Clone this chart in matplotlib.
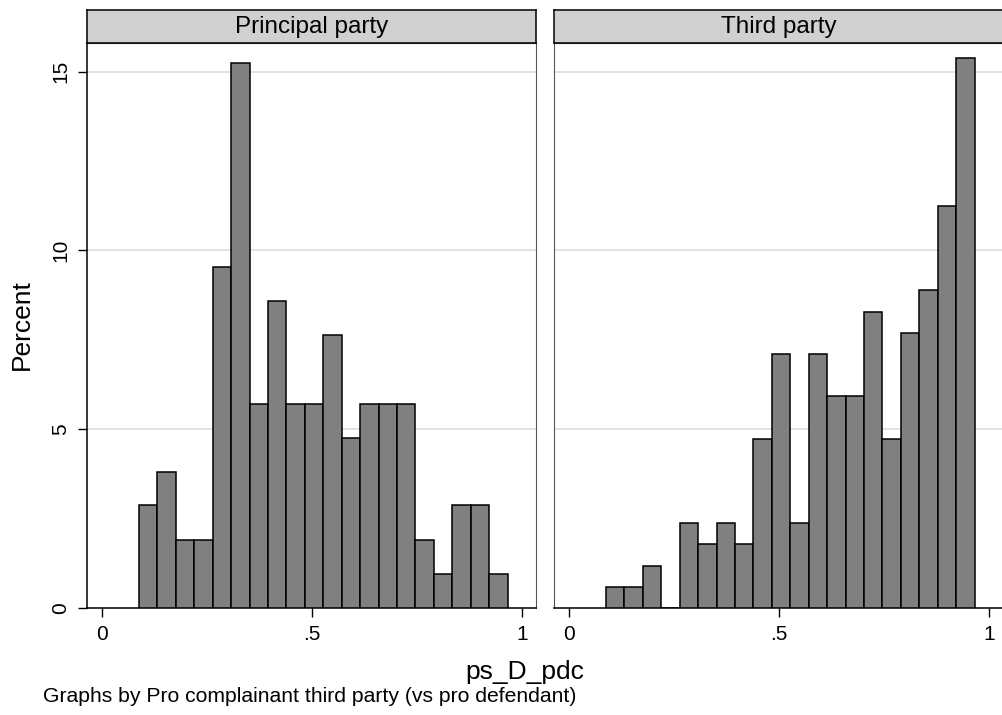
import matplotlib
matplotlib.use("Agg")
import matplotlib.pyplot as plt

plt.rcParams['font.family'] = ['Liberation Sans', 'DejaVu Sans']

# histogram of ps_D_pdc, 20 common bins, percent per panel
bin_start = 0.0885
bin_width = 0.0439
panels = ["Principal party", "Third party"]
principal_pct = [2.86, 3.81, 1.90, 1.90, 9.52, 15.24, 5.71, 8.57, 5.71, 5.71,
                 7.62, 4.76, 5.71, 5.71, 5.71, 1.90, 0.95, 2.86, 2.86, 0.95]
third_pct = [0.59, 0.59, 1.18, 0.0, 2.37, 1.78, 2.37, 1.78, 4.73, 7.10,
             2.37, 7.10, 5.92, 5.92, 8.28, 4.73, 7.69, 8.88, 11.24, 15.38]
xticks = [0, 0.5, 1]
xticklabels = ["0", ".5", "1"]
yticks = [0, 5, 10, 15]
yticklabels = ["0", "5", "10", "15"]

W, H = 1002, 715
fig = plt.figure(figsize=(W / 100, H / 100), dpi=100)

top_px, bot_px = 42.7, 607.7
strip_top = 10
ax_w = 448.7
lefts = [87.3, 554.3]
data = [principal_pct, third_pct]

edges = [bin_start + i * bin_width for i in range(len(principal_pct))]

for i, (lp, vals, title) in enumerate(zip(lefts, data, panels)):
    ax = fig.add_axes([lp / W, 1 - bot_px / H, ax_w / W, (bot_px - top_px) / H])
    ax.bar(edges, vals, width=bin_width, align='edge', color='#808080',
           edgecolor='black', linewidth=1.1, zorder=3)
    ax.set_xlim(-0.0343, 1.034)
    ax.set_ylim(0, 15.81)
    ax.set_yticks(yticks)
    for y in yticks[1:]:
        ax.axhline(y, color='#e0e0e0', linewidth=1.3, zorder=1)
    ax.set_xticks(xticks)
    ax.set_xticklabels(xticklabels, fontsize=15)
    ax.tick_params(axis='x', length=6.5, width=1, pad=6)
    if i == 0:
        ax.set_yticklabels(yticklabels, fontsize=15, rotation=90, va='center')
        ax.tick_params(axis='y', length=6.5, width=1, pad=6)
    else:
        ax.tick_params(axis='y', length=0, labelleft=False)
    for s in ['top', 'right']:
        ax.spines[s].set_color('#555555')
        ax.spines[s].set_linewidth(0.8)
    ax.spines['bottom'].set_color('black')
    ax.spines['bottom'].set_linewidth(1.1)
    ax.spines['left'].set_color('black' if i == 0 else '#555555')
    ax.spines['left'].set_linewidth(1.1 if i == 0 else 0.8)

    sax = fig.add_axes([lp / W, 1 - top_px / H, ax_w / W, (top_px - strip_top) / H])
    sax.set_facecolor('#d0d0d0')
    sax.set_xticks([])
    sax.set_yticks([])
    for s in sax.spines.values():
        s.set_color('black')
        s.set_linewidth(1.1)
    sax.text(0.5, 0.47, title, ha='center', va='center', fontsize=17.5,
             transform=sax.transAxes)

fig.text(22 / W, 1 - 325 / H, "Percent", rotation=90, ha='center', va='center',
         fontsize=19)
fig.text(525 / W, 1 - 672 / H, "ps_D_pdc", ha='center', va='center', fontsize=19)
fig.text(42.7 / W, 1 - 697 / H, "Graphs by Pro complainant third party (vs pro defendant)",
         ha='left', va='center', fontsize=15.2)

plt.savefig("out.png", dpi=100, facecolor='white')
plt.close()
